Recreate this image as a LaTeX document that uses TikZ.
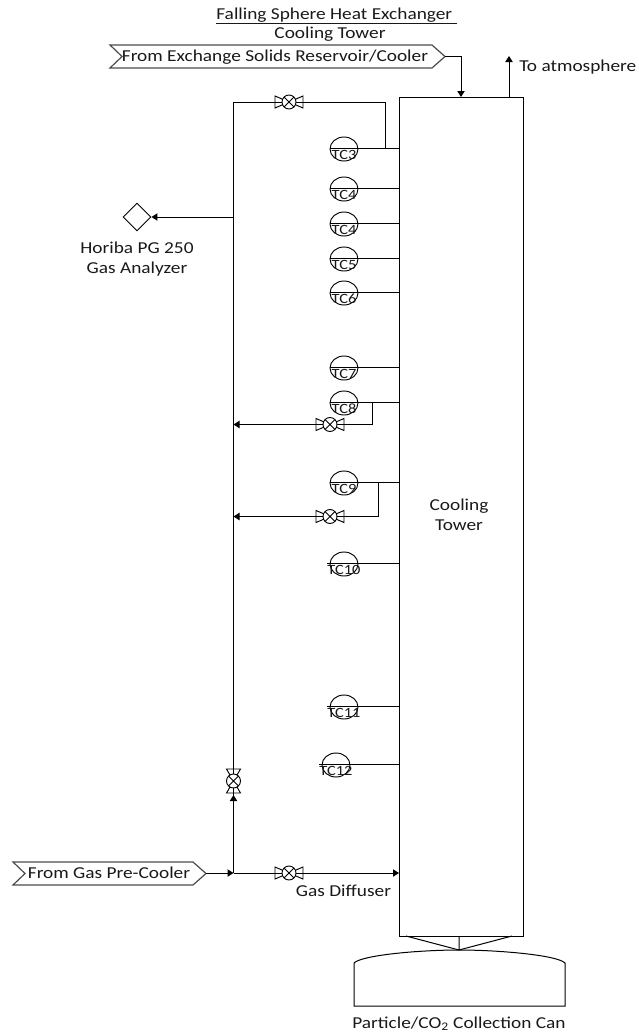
\documentclass[tikz,border=0pt]{standalone}
\usepackage{fontspec}
\setmainfont[FakeStretch=1.16]{Carlito}
\usetikzlibrary{arrows.meta,shapes.geometric,calc}
\tikzset{
  x=0.75pt,y=-0.75pt,
  pipe/.style={draw=black,line width=0.75pt},
  flow/.style={pipe,-{Triangle[length=4.5pt,width=5.5pt]}},
  lab/.style={font=\fontsize{12.5pt}{15pt}\selectfont,inner sep=0pt,text=black!90},
  tclab/.style={font=\fontsize{10.6pt}{12pt}\selectfont,inner sep=0pt,text=black!90},
  off/.style={draw=black!70,line width=0.9pt,fill=white},
  inst/.style={ellipse,draw=black,line width=0.7pt,minimum width=21pt,minimum height=18pt,inner sep=0pt},
  pics/valveh/.style={code={
    \draw[line width=0.7pt] (-14,-6)--(-14,6)--(14,-6)--(14,6)--cycle;
    \draw[line width=0.7pt,fill=white] (0,0) circle[radius=7];
    \draw[line width=0.6pt] (-5,-5)--(5,5) (-5,5)--(5,-5);
  }},
  pics/valvev/.style={code={
    \draw[line width=0.7pt] (-7,-12)--(7,-12)--(-7,12)--(7,12)--cycle;
    \draw[line width=0.7pt,fill=white] (0,0) circle[radius=7];
    \draw[line width=0.6pt] (-5,-5)--(5,5) (-5,5)--(5,-5);
  }},
}
\newcommand{\tcinst}[5]{% name, centre x, line y, label, line start x
  \node[inst] (#1) at (#2,#3+1) {};
  \coordinate (#1s) at (#5,#3);
  \draw[pipe] (#1s) -- (#1s -| tower.west);
  \node[tclab] (#1t) at (#2,#3+6.5) {#4};
}
\begin{document}
\begin{tikzpicture}
\useasboundingbox (0,0) rectangle (639,1032);

\node[draw=black,line width=0.75pt,minimum width=93pt,minimum height=629.25pt,inner sep=0pt] (tower) at (461,516.5) {};
\node[lab,align=center] (towerlab) at (459,515) {Cooling\\Tower};

\node[lab,inner sep=0pt] (title1) at (336.5,16) {\underline{Falling Sphere Heat Exchanger\ }};
\node[lab] (title2) at (330,34) {Cooling Tower};

% off-page connectors
\draw[off] (110,45) -- (432,45) -- (445,56.5) -- (432,68) -- (110,68) -- (122,56.5) -- cycle;
\coordinate (offA) at (445,56.5);
\node[lab] (offAt) at (275,57) {From Exchange Solids Reservoir/Cooler};
\draw[off] (13,862) -- (193,862) -- (206,873.5) -- (193,885) -- (13,885) -- (25,873.5) -- cycle;
\coordinate (offB) at (206,873);
\node[lab] (offBt) at (109,873) {From Gas Pre-Cooler};

% exhaust and inlet
\coordinate (inT) at (461,97);
\coordinate (outT) at (509,97);
\coordinate (outE) at (509,56);
\draw[flow] (offA) -| (inT);
\draw[flow] (outT) -- (outE);
\node[lab,anchor=west] (atm) at (519,67) {To atmosphere};

% main header
\coordinate (hdrTop) at (233.5,102);
\coordinate (hdrJ) at (233.5,873);
\coordinate (tap3) at (385,148);
\coordinate (vTop) at (289,102);
\draw[pipe] (hdrJ) -- (hdrTop) -- (tap3 |- hdrTop) -- (tap3);
\pic at (vTop) {valveh};

% gas analyzer
\node[diamond,draw=black,line width=0.7pt,minimum width=21pt,minimum height=21pt,inner sep=0pt] (ana) at (137,217) {};
\coordinate (anaJ) at (233.5,217);
\draw[flow] (anaJ) -- (ana.east);
\node[lab,align=center] (analab) at (137,259) {Horiba PG 250\\Gas Analyzer};

% thermocouples
\tcinst{tc3}{344}{148}{TC3}{330}
\tcinst{tc4}{344}{188}{TC4}{330}
\tcinst{tc4b}{344}{223}{TC4}{330}
\tcinst{tc5}{344}{258}{TC5}{330}
\tcinst{tc6}{344}{292}{TC6}{330}
\tcinst{tc7}{344}{367}{TC7}{330}
\tcinst{tc8}{344}{402}{TC8}{330}
\tcinst{tc9}{344}{482}{TC9}{330}
\tcinst{tc10}{344}{563}{TC10}{327}
\tcinst{tc11}{344}{706}{TC11}{327}
\tcinst{tc12}{336}{764}{TC12}{319}

% sampling branches
\coordinate (t8) at (372,402);
\coordinate (b8) at (233.5,424.5);
\coordinate (t9) at (378.5,482);
\coordinate (b9) at (233.5,516.5);
\draw[flow] (t8) |- (b8);
\draw[flow] (t9) |- (b9);
\pic at (330,424.5) {valveh};
\pic at (330,516.5) {valveh};

% gas feed
\coordinate (feedE) at (399,873);
\coordinate (hdrV) at (233.5,795);
\draw[flow] (offB) -- (hdrJ);
\draw[flow] (hdrJ) -- (feedE);
\draw[flow] (hdrJ) -- (hdrV);
\pic at (289,873) {valveh};
\pic at (233.5,781) {valvev};
\node[lab] (diff) at (343.5,891) {Gas Diffuser};

% collection can
\coordinate (fL) at (406,936);
\coordinate (fR) at (512,936);
\coordinate (fM) at (459,936);
\coordinate (fT) at (459,950);
\draw[pipe] (fL) -- (fT) -- (fR) (fM) -- (fT);
\draw[draw=black,line width=0.75pt] (354,1006) -- (354,963) .. controls (362,955) and (420,950) .. (fT) .. controls (498,950) and (557,955) .. (565,963) -- (565,1006) -- cycle;
\node[lab] (canlab) at (459,1024) {Particle/CO\textsubscript{2} Collection Can};
\end{tikzpicture}
\end{document}
